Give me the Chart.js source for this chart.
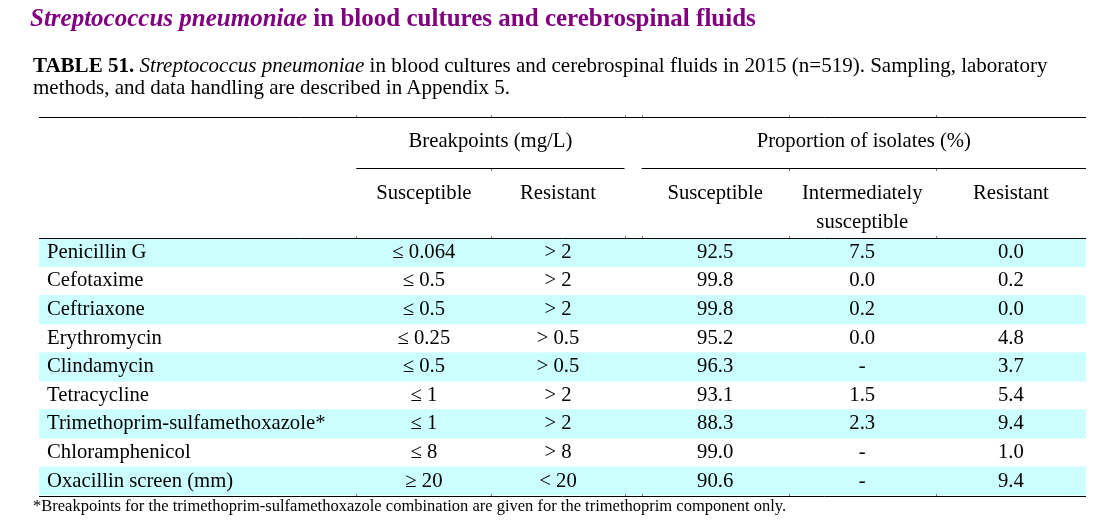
<!DOCTYPE html>
<html>
<head>
<meta charset="utf-8">
<script src="https://cdn.jsdelivr.net/npm/chart.js@4.4.1/dist/chart.umd.min.js"></script>
<style>
  html, body { margin: 0; padding: 0; background: #ffffff; }
  #wrap { position: relative; width: 1103px; height: 531px; overflow: hidden; font-family: "Liberation Serif", "Times New Roman", serif; color: #000; }
  #c { position: absolute; left: 0; top: 0; }
  .title { position: absolute; left: 30px; top: 5px; font-size: 25px; line-height: 25px; font-weight: bold; color: #800080; white-space: nowrap; }
  .caption { position: absolute; left: 33px; top: 54px; font-size: 21px; line-height: 22px; white-space: nowrap; }
  .foot { position: absolute; left: 33px; top: 497px; font-size: 16.5px; line-height: 18px; white-space: nowrap; }
</style>
</head>
<body>
<div id="wrap">
  <canvas id="c" width="1103" height="531"></canvas>
  <div class="title"><i>Streptococcus pneumoniae</i> in blood cultures and cerebrospinal fluids</div>
  <div class="caption"><b>TABLE 51.</b> <i>Streptococcus pneumoniae</i> in blood cultures and cerebrospinal fluids in 2015 (n=519). Sampling, laboratory<br>methods, and data handling are described in Appendix 5.</div>
  <div class="foot">*Breakpoints for the trimethoprim-sulfamethoxazole combination are given for the trimethoprim component only.</div>
</div>
<script>
// ---------------- DATA ----------------
const drugs = ['Penicillin G', 'Cefotaxime', 'Ceftriaxone', 'Erythromycin', 'Clindamycin', 'Tetracycline', 'Trimethoprim-sulfamethoxazole*', 'Chloramphenicol', 'Oxacillin screen (mm)'];
const bpSusceptible = ['≤ 0.064', '≤ 0.5', '≤ 0.5', '≤ 0.25', '≤ 0.5', '≤ 1', '≤ 1', '≤ 8', '≥ 20'];
const bpResistant = ['> 2', '> 2', '> 2', '> 0.5', '> 0.5', '> 2', '> 2', '> 8', '< 20'];
const pctSusceptible = [92.5, 99.8, 99.8, 95.2, 96.3, 93.1, 88.3, 99.0, 90.6];
const pctIntermediate = [7.5, 0.0, 0.2, 0.0, null, 1.5, 2.3, null, null];
const pctResistant = [0.0, 0.2, 0.0, 4.8, 3.7, 5.4, 9.4, 1.0, 9.4];
const groupHeaders = ['Breakpoints (mg/L)', 'Proportion of isolates (%)'];
const columnHeaders = ['Susceptible', 'Resistant', 'Susceptible', 'Intermediately\nsusceptible', 'Resistant'];

// ---------------- LAYOUT (table geometry in scale units) ----------------
const colEdges = [0, 317, 452, 585, 602, 749, 896, 1046];   // x-scale units
const valueCols = [1, 2, 4, 5, 6];                           // column index for each value column
const groupSpans = [[1, 3], [4, 7]];                         // column edge index spans of group headers
const yTop = -4.25, yGroup = -3.36, yUnder = -2.45, yHead1 = -1.56, yHead2 = -0.55;
const FONT = '"Liberation Serif", "Times New Roman", serif';

const fmt = v => (v === null || v === undefined) ? '-' : v.toFixed(1);
const tableRows = drugs.map((d, i) => [bpSusceptible[i], bpResistant[i], fmt(pctSusceptible[i]), fmt(pctIntermediate[i]), fmt(pctResistant[i])]);

const tablePlugin = {
  id: 'tableText',
  afterDatasetsDraw(chart) {
    const { ctx } = chart;
    const xs = chart.scales.x, ys = chart.scales.y;
    const X = v => xs.getPixelForValue(v);
    const Y = v => ys.getPixelForValue(v);
    const colCenter = c => X((colEdges[c] + colEdges[c + 1]) / 2);
    ctx.save();
    // rules
    ctx.strokeStyle = '#000';
    ctx.lineWidth = 1;
    const hline = (v, a, b) => {
      const py = Math.round(Y(v)) + 0.5;
      ctx.beginPath(); ctx.moveTo(X(a), py); ctx.lineTo(X(b), py); ctx.stroke();
    };
    hline(yTop, colEdges[0], colEdges[7]);
    groupSpans.forEach(([a, b]) => hline(yUnder, colEdges[a], colEdges[b]));
    hline(0, colEdges[0], colEdges[7]);
    hline(drugs.length, colEdges[0], colEdges[7]);
    // tiny cell-border marks
    ctx.strokeStyle = '#777';
    [yTop, 0, drugs.length].forEach(v => {
      const py = Math.round(Y(v));
      colEdges.slice(1, 7).forEach(e => {
        const px = Math.round(X(e)) + 0.5;
        ctx.beginPath(); ctx.moveTo(px, py - 2); ctx.lineTo(px, py); ctx.stroke();
      });
    });
    {
      const py = Math.round(Y(yUnder)) + 1;
      [colEdges[2], colEdges[5], colEdges[6]].forEach(e => {
        const px = Math.round(X(e)) + 0.5;
        ctx.beginPath(); ctx.moveTo(px, py); ctx.lineTo(px, py + 2); ctx.stroke();
      });
    }
    // text
    ctx.fillStyle = '#000';
    ctx.font = '20.7px ' + FONT;
    ctx.textBaseline = 'middle';
    ctx.textAlign = 'center';
    groupHeaders.forEach((g, k) => {
      const [a, b] = groupSpans[k];
      ctx.fillText(g, X((colEdges[a] + colEdges[b]) / 2), Y(yGroup));
    });
    columnHeaders.forEach((h, k) => {
      const lines = h.split('\n');
      ctx.fillText(lines[0], colCenter(valueCols[k]), Y(yHead1));
      if (lines[1]) ctx.fillText(lines[1], colCenter(valueCols[k]), Y(yHead2));
    });
    drugs.forEach((d, i) => {
      const py = Y(i + 0.5);
      ctx.textAlign = 'left';
      ctx.fillText(d, X(colEdges[0] + 8), py);
      ctx.textAlign = 'center';
      tableRows[i].forEach((t, k) => ctx.fillText(t, colCenter(valueCols[k]), py));
    });
    ctx.restore();
  }
};

new Chart(document.getElementById('c'), {
  type: 'bar',
  data: {
    datasets: [{
      label: 'rows',
      data: drugs.map((d, i) => ({ x: [colEdges[0], colEdges[colEdges.length - 1]], y: i + 0.5 })),
      backgroundColor: drugs.map((d, i) => i % 2 === 0 ? '#ccffff' : 'rgba(255,255,255,0)'),
      borderWidth: 0,
      categoryPercentage: 1,
      barPercentage: 1
    }]
  },
  options: {
    indexAxis: 'y',
    responsive: false,
    animation: false,
    events: [],
    layout: { padding: { left: 39, right: 17, top: 116.5, bottom: 35.5 } },
    plugins: { legend: { display: false }, tooltip: { enabled: false }, title: { display: false } },
    scales: {
      x: { type: 'linear', min: colEdges[0], max: colEdges[colEdges.length - 1], display: false, offset: false, grid: { display: false } },
      y: { type: 'linear', reverse: true, min: yTop, max: drugs.length, display: false, offset: false, grid: { display: false } }
    }
  },
  plugins: [tablePlugin]
});
</script>
</body>
</html>
